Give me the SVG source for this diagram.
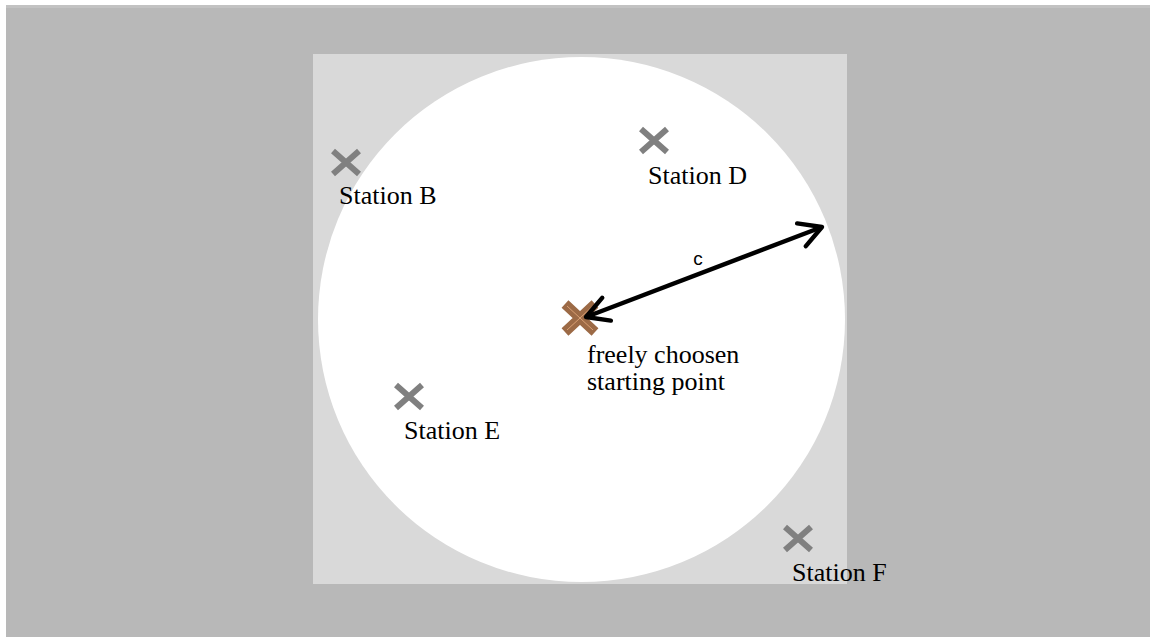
<svg xmlns="http://www.w3.org/2000/svg" width="1150" height="637" viewBox="0 0 1150 637">
  <defs>
    <style>
      .lbl { font-family: "Liberation Serif", "Times New Roman", serif; font-size: 26px; fill: #000; }
      .cap { font-family: "Liberation Sans", Arial, sans-serif; font-size: 19px; fill: #000; }
      .mark { stroke: #808080; stroke-width: 6; stroke-linecap: butt; fill: none; }
      .conn { stroke: #000; stroke-width: 4.5; fill: none; }
    </style>
    <marker id="head" viewBox="0 0 12 12" refX="10" refY="6" markerWidth="6.5" markerHeight="6.5" orient="auto-start-reverse" markerUnits="strokeWidth">
      <path d="M1,1 L10,6 L1,11" fill="none" stroke="#000" stroke-width="1.8" stroke-linecap="round" stroke-linejoin="round"/>
    </marker>
  </defs>

  <!-- canvas -->
  <rect width="1150" height="637" fill="#ffffff"/>
  <rect x="6" y="5" width="1144" height="632" fill="#b8b8b8"/>
  <rect x="6" y="5" width="1144" height="3" fill="#c2c2c2"/>

  <!-- search area -->
  <rect id="area" x="313" y="54" width="534" height="530" fill="#d9d9d9"/>
  <ellipse id="range" cx="581.5" cy="319.5" rx="263.5" ry="262.5" fill="#ffffff"/>

  <!-- stations -->
  <g id="station-b">
    <path class="mark" d="M333,151 L359,174 M359,151 L333,174"/>
    <text class="lbl" x="339" y="204">Station B</text>
  </g>
  <g id="station-d">
    <path class="mark" d="M641,129 L667,152 M667,129 L641,152"/>
    <text class="lbl" x="648" y="184">Station D</text>
  </g>
  <g id="station-e">
    <path class="mark" d="M396,385 L422,408 M422,385 L396,408"/>
    <text class="lbl" x="404" y="439">Station E</text>
  </g>
  <g id="station-f">
    <path class="mark" d="M785,527 L811,550 M811,527 L785,550"/>
    <text class="lbl" x="792" y="581">Station F</text>
  </g>

  <!-- starting point -->
  <g id="start">
    <path d="M565,304 L595,332 M595,304 L565,332" stroke="#9c6a46" stroke-width="10" fill="none"/>
    <path d="M567,306 L593,330 M593,306 L567,330" stroke="#d9a074" stroke-width="1" fill="none"/>
    <text class="lbl" x="587" y="363">freely choosen</text>
    <text class="lbl" x="587" y="390">starting point</text>
  </g>

  <!-- connectors -->
  <g id="connectors">
    <line class="conn" x1="586" y1="317" x2="822" y2="227" marker-start="url(#head)" marker-end="url(#head)"/>
    <text class="cap" x="698" y="265" text-anchor="middle">c</text>
  </g>
</svg>
